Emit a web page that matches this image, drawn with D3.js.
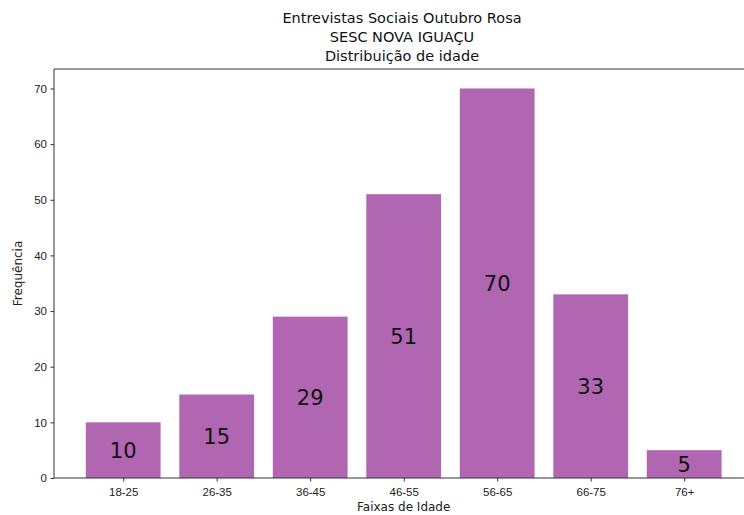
<!DOCTYPE html>
<html>
<head>
<meta charset="utf-8">
<script src="https://cdn.jsdelivr.net/npm/d3@7"></script>
<style>
  body { margin: 0; background: #fff; }
  svg { font-family: "DejaVu Sans", sans-serif; }
</style>
</head>
<body>
<div id="chart"></div>
<script>
// data
const faixas = ["18-25", "26-35", "36-45", "46-55", "56-65", "66-75", "76+"];
const frequencias = [10, 15, 29, 51, 70, 33, 5];
const yTicks = [0, 10, 20, 30, 40, 50, 60, 70];
const titulo = ["Entrevistas Sociais Outubro Rosa", "SESC NOVA IGUAÇU", "Distribuição de idade"];

let width = 744, height = 515;
let plotLeft = 54, plotTop = 69, plotBottom = 478;
let step = 93.5;

let svg = d3.select('#chart').append('svg')
  .attr('width', width)
  .attr('height', height);

// x: positions as in matplotlib (index), limits -0.74..6.74
let x = d3.scaleLinear()
  .domain([-0.74, 6.74])
  .range([plotLeft, plotLeft + 7.48 * step]);

let y = d3.scaleLinear()
  .domain([0, 73.5])
  .range([plotBottom, plotTop]);

let barW = x(0.4) - x(-0.4);

// bars
svg.selectAll('.bar')
  .data(frequencias)
  .enter().append('rect')
  .attr('class', 'bar')
  .attr('x', (d, i) => x(i) - barW / 2)
  .attr('y', d => y(d))
  .attr('width', barW)
  .attr('height', d => y(0) - y(d))
  .style('fill', '#b066b0');

// value labels at half height
svg.selectAll('.val')
  .data(frequencias)
  .enter().append('text')
  .attr('x', (d, i) => x(i))
  .attr('y', d => y(d / 2))
  .attr('dy', '0.36em')
  .attr('text-anchor', 'middle')
  .style('font-size', '21px')
  .style('fill', '#111')
  .text(d => d);

// frame
svg.append('path')
  .attr('d', `M${plotLeft},${plotBottom}V${plotTop}H${width + 10}`)
  .style('fill', 'none')
  .style('stroke', '#333')
  .style('stroke-width', 1);
svg.append('line')
  .attr('x1', plotLeft).attr('x2', width + 10)
  .attr('y1', plotBottom).attr('y2', plotBottom)
  .style('stroke', '#333');

// y axis
let yAxis = svg.append('g')
  .attr('transform', `translate(${plotLeft},0)`)
  .call(d3.axisLeft(y).tickValues(yTicks).tickSize(3.5).tickPadding(3.5));
yAxis.select('.domain').remove();
yAxis.selectAll('text').style('font-size', '11.5px').style('fill', '#222').attr('font-family', null);
yAxis.selectAll('line').style('stroke', '#333');

// x axis
let xAxis = svg.append('g')
  .attr('transform', `translate(0,${plotBottom})`)
  .call(d3.axisBottom(x).tickValues(d3.range(faixas.length)).tickFormat(i => faixas[i]).tickSize(3.5).tickPadding(6));
xAxis.select('.domain').remove();
xAxis.selectAll('text').style('font-size', '11.5px').style('fill', '#222').attr('font-family', null);
xAxis.selectAll('line').style('stroke', '#333');

// axis labels
svg.append('text')
  .attr('x', x(3))
  .attr('y', 511)
  .attr('text-anchor', 'middle')
  .style('font-size', '12px')
  .style('fill', '#222')
  .text('Faixas de Idade');

svg.append('text')
  .attr('transform', `translate(22,${(plotTop + plotBottom) / 2}) rotate(-90)`)
  .attr('text-anchor', 'middle')
  .style('font-size', '12px')
  .style('fill', '#222')
  .text('Frequência');

// title
svg.selectAll('.title')
  .data(titulo)
  .enter().append('text')
  .attr('x', 402)
  .attr('y', (d, i) => 23 + i * 19)
  .attr('text-anchor', 'middle')
  .style('font-size', '14.5px')
  .style('fill', '#111')
  .text(d => d);
</script>
</body>
</html>
